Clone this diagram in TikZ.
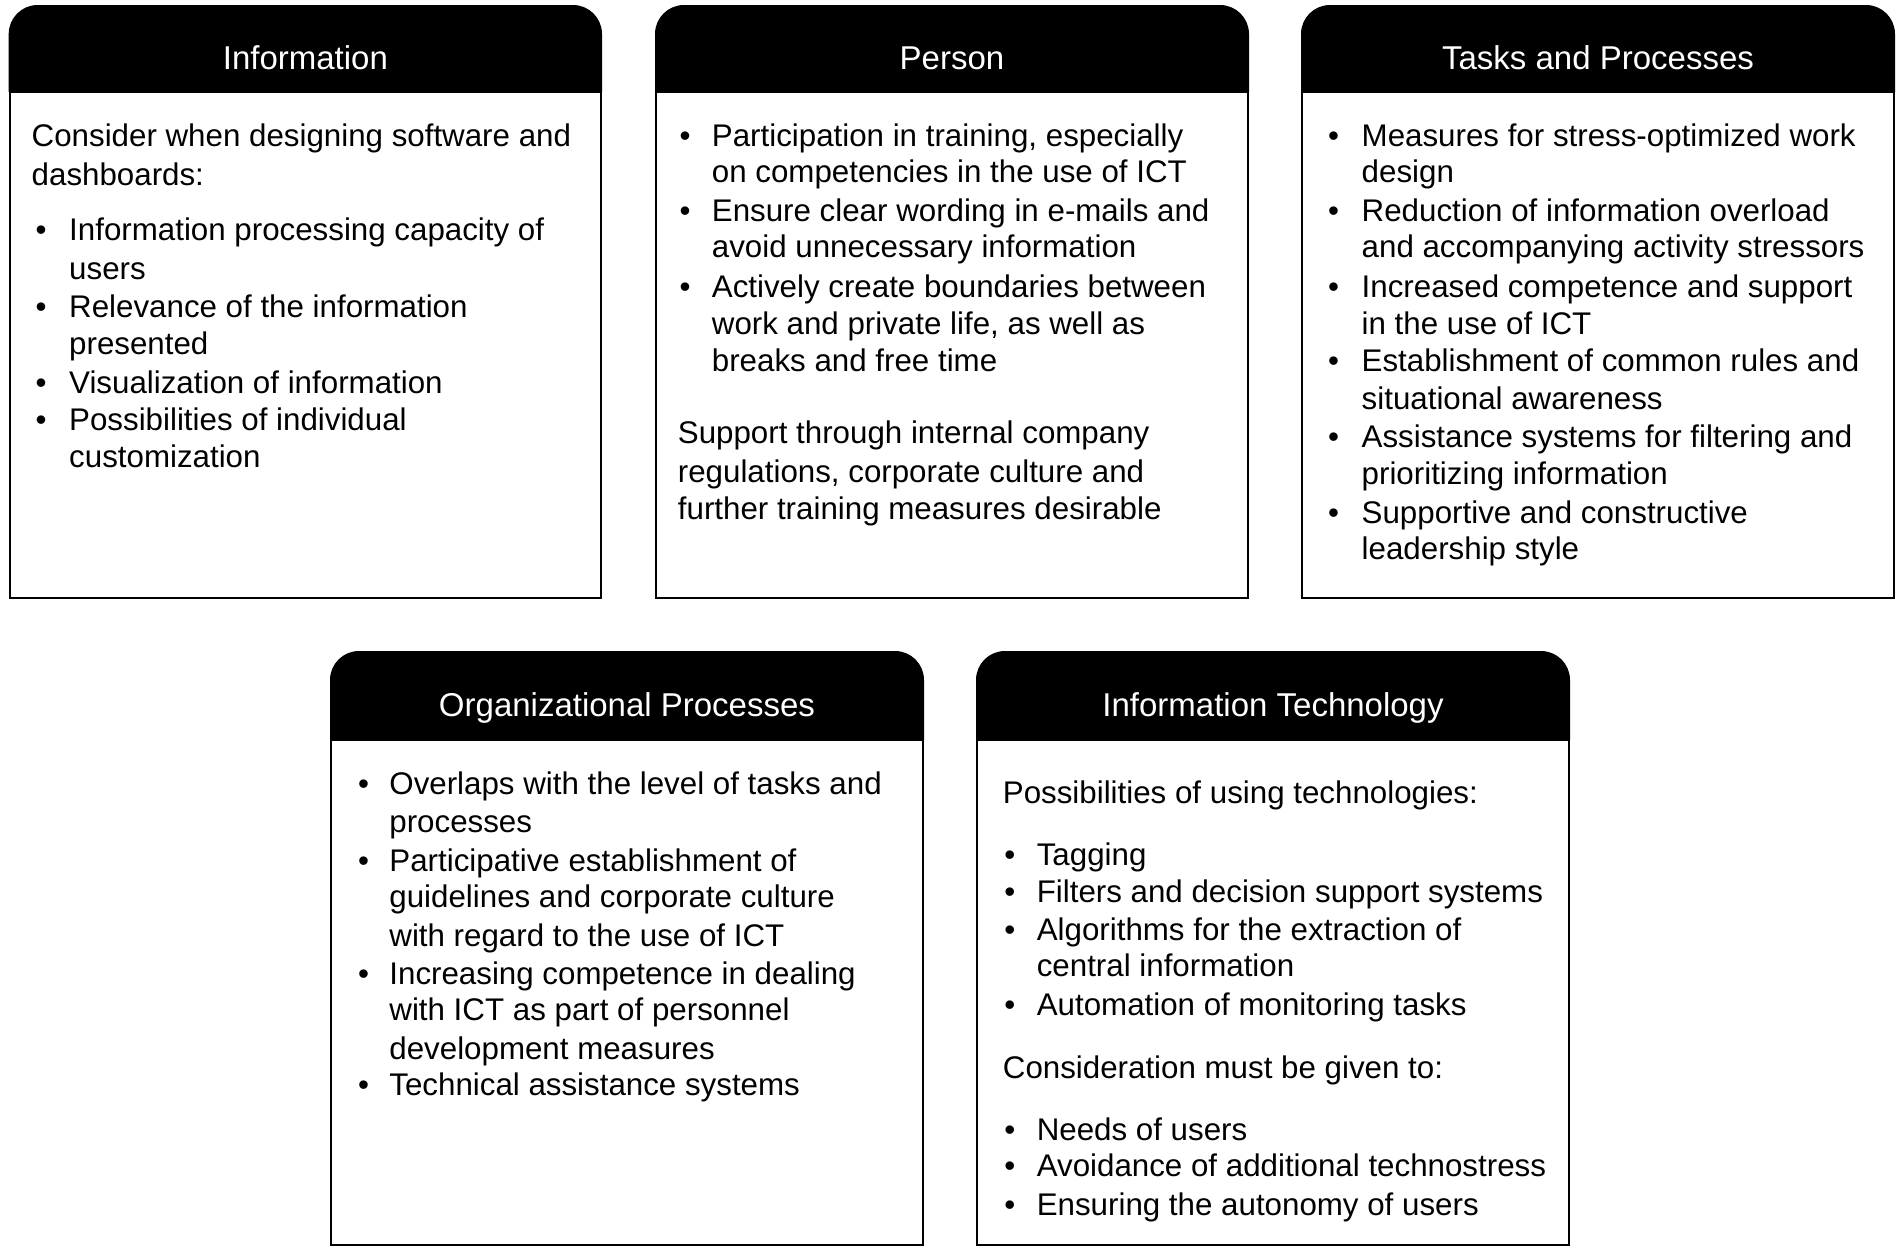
\documentclass[tikz,border=0pt]{standalone}
\usepackage{fontspec}
\setmainfont{Liberation Sans}
\tikzset{
  body/.style={font=\fontsize{31.3}{37.6}\selectfont, inner sep=0pt, anchor=base west},
  bul/.style={font=\fontsize{31.3}{37.6}\selectfont, inner sep=0pt, anchor=base},
  ttl/.style={font=\fontsize{33}{40}\selectfont, text=white, inner sep=0pt, anchor=base},
  frame/.style={line width=2pt, draw=black},
}
\newcommand\panel[5]{% x1 x2 top headerbottom bottom
  \fill[black, rounded corners=28pt] (#1,-#3) rectangle (#2,-#4);
  \fill[black] (#1,{-#4+40}) rectangle (#2,-#4);
  \draw[frame] (#1,-#4) rectangle (#2,-#5);
  \draw[frame, rounded corners=28pt] (#1,-#4) -- (#1,-#3) -- (#2,-#3) -- (#2,-#4);
}
\newcommand\tl[4]{\node[body] (#1) at (#2,-#3) {#4};}
\newcommand\bl[3]{\node[bul] (#1) at (#2,-#3) {•};}
\begin{document}
\begin{tikzpicture}[x=1pt,y=1pt]
\fill[white] (0,0) rectangle (1901,-1253);
\useasboundingbox (0,0) rectangle (1901,-1253);

% panels
\panel{9.7}{601}{6}{92}{598}
\panel{656}{1248}{6}{92}{598}
\panel{1302}{1894}{6}{92}{598}
\panel{331}{923}{652}{740}{1245}
\panel{977}{1569}{652}{740}{1245}

% titles
\node[ttl] (t1) at (305.4,-69) {Information};
\node[ttl] (t2) at (952,-69) {Person};
\node[ttl] (t3) at (1598,-69) {Tasks and Processes};
\node[ttl] (t4) at (627,-716) {Organizational Processes};
\node[ttl] (t5) at (1273,-716) {Information Technology};

% Box 1
\tl{a1}{31.5}{146.3}{Consider when designing software and}
\tl{a2}{31.5}{185.1}{dashboards:}
\bl{ab1}{41}{240.9}\tl{a3}{69}{240.9}{Information processing capacity of}
\tl{a4}{69}{279.7}{users}
\bl{ab2}{41}{317.2}\tl{a5}{69}{317.2}{Relevance of the information}
\tl{a6}{69}{354.8}{presented}
\bl{ab3}{41}{393.6}\tl{a7}{69}{393.6}{Visualization of information}
\bl{ab4}{41}{430}\tl{a8}{69}{430}{Possibilities of individual}
\tl{a9}{69}{467.6}{customization}

% Box 2
\bl{bb1}{685}{146.3}\tl{b1}{711.7}{146.3}{Participation in training, especially}
\tl{b2}{711.7}{182.7}{on competencies in the use of ICT}
\bl{bb2}{685}{221.5}\tl{b3}{711.7}{221.5}{Ensure clear wording in e-mails and}
\tl{b4}{711.7}{257.8}{avoid unnecessary information}
\bl{bb3}{685}{297.8}\tl{b5}{711.7}{297.8}{Actively create boundaries between}
\tl{b6}{711.7}{334.2}{work and private life, as well as}
\tl{b7}{711.7}{371.8}{breaks and free time}
\tl{b8}{677.7}{443.3}{Support through internal company}
\tl{b9}{677.7}{482.1}{regulations, corporate culture and}
\tl{b10}{677.7}{519.7}{further training measures desirable}

% Box 3
\bl{cb1}{1333.6}{146.3}\tl{c1}{1361.5}{146.3}{Measures for stress-optimized work}
\tl{c2}{1361.5}{182.7}{design}
\bl{cb2}{1333.6}{221.5}\tl{c3}{1361.5}{221.5}{Reduction of information overload}
\tl{c4}{1361.5}{257.8}{and accompanying activity stressors}
\bl{cb3}{1333.6}{297.8}\tl{c5}{1361.5}{297.8}{Increased competence and support}
\tl{c6}{1361.5}{334.2}{in the use of ICT}
\bl{cb4}{1333.6}{371.8}\tl{c7}{1361.5}{371.8}{Establishment of common rules and}
\tl{c8}{1361.5}{409.4}{situational awareness}
\bl{cb5}{1333.6}{447}\tl{c9}{1361.5}{447}{Assistance systems for filtering and}
\tl{c10}{1361.5}{484.6}{prioritizing information}
\bl{cb6}{1333.6}{523.3}\tl{c11}{1361.5}{523.3}{Supportive and constructive}
\tl{c12}{1361.5}{559.7}{leadership style}

% Box 4
\bl{db1}{363.7}{794.9}\tl{d1}{389.2}{794.9}{Overlaps with the level of tasks and}
\tl{d2}{389.2}{832.5}{processes}
\bl{db2}{363.7}{871.3}\tl{d3}{389.2}{871.3}{Participative establishment of}
\tl{d4}{389.2}{907.7}{guidelines and corporate culture}
\tl{d5}{389.2}{946.5}{with regard to the use of ICT}
\bl{db3}{363.7}{984.1}\tl{d6}{389.2}{984.1}{Increasing competence in dealing}
\tl{d7}{389.2}{1020.4}{with ICT as part of personnel}
\tl{d8}{389.2}{1059.2}{development measures}
\bl{db4}{363.7}{1095.6}\tl{d9}{389.2}{1095.6}{Technical assistance systems}

% Box 5
\tl{e1}{1002.7}{803.4}{Possibilities of using technologies:}
\bl{eb1}{1009.9}{865.2}\tl{e2}{1036.6}{865.2}{Tagging}
\bl{eb2}{1009.9}{902.8}\tl{e3}{1036.6}{902.8}{Filters and decision support systems}
\bl{eb3}{1009.9}{940.4}\tl{e4}{1036.6}{940.4}{Algorithms for the extraction of}
\tl{e5}{1036.6}{976.8}{central information}
\bl{eb4}{1009.9}{1015.6}\tl{e6}{1036.6}{1015.6}{Automation of monitoring tasks}
\tl{e7}{1002.7}{1078.6}{Consideration must be given to:}
\bl{eb5}{1009.9}{1140.5}\tl{e8}{1036.6}{1140.5}{Needs of users}
\bl{eb6}{1009.9}{1176.8}\tl{e9}{1036.6}{1176.8}{Avoidance of additional technostress}
\bl{eb7}{1009.9}{1215.6}\tl{e10}{1036.6}{1215.6}{Ensuring the autonomy of users}
\end{tikzpicture}
\end{document}
